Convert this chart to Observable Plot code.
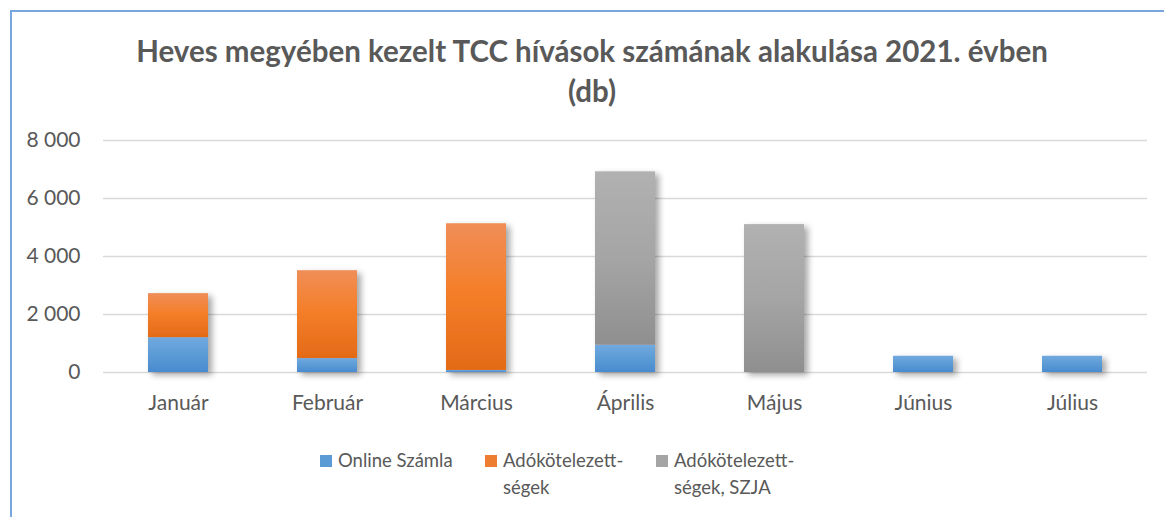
<!DOCTYPE html>
<html><head><meta charset="utf-8">
<script src="https://cdn.jsdelivr.net/npm/d3@7"></script>
<script src="https://cdn.jsdelivr.net/npm/@observablehq/plot@0.6"></script>
<style>
html,body{margin:0;padding:0;background:#fff;overflow:hidden;width:1164px;height:517px;font-family:Lato,"Open Sans",sans-serif;color:#595959;}
#frame{position:absolute;left:10px;top:10px;width:1300px;height:600px;border-left:2px solid #7aa6e0;border-top:2px solid #7aa6e0;}
#title{position:absolute;left:20px;top:31px;width:1144px;text-align:center;font-weight:700;font-size:29.5px;line-height:40px;color:#595959;}
#chart{position:absolute;left:0;top:120px;}
.lg{position:absolute;top:447px;display:flex;align-items:flex-start;font-size:18.5px;line-height:27px;color:#595959;}
.sw{width:12px;height:12px;margin-top:8px;margin-right:6px;flex:none;}
</style></head>
<body>
<div id="frame"></div>
<div id="title"></div>
<div id="chart"></div>
<div id="legend"></div>
<script>
const months = ["Január","Február","Március","Április","Május","Június","Július"];
const series = ["Online Számla","Adókötelezett-ségek","Adókötelezett-ségek, SZJA"];
const onlineSzamla = [1200, 480, 70, 940, 0, 560, 560];
const adokotelezettsegek = [1520, 3030, 5060, 0, 0, 0, 0];
const adokotelezettsegekSzja = [0, 0, 0, 5980, 5100, 0, 0];
const yTicks = [0, 2000, 4000, 6000, 8000];
const swatchColors = ["#5b9bd5", "#ed7d31", "#a5a5a5"];

document.getElementById("title").innerHTML = "Heves megyében kezelt TCC hívások számának alakulása 2021. évben<br>(db)";

const valuesBySeries = [onlineSzamla, adokotelezettsegek, adokotelezettsegekSzja];
const data = series.flatMap((s, i) => months.map((m, j) => ({month: m, series: s, value: valuesBySeries[i][j]})));

const fmt = d => d3.format(",")(d).replace(/,/g, " ");

const plot = Plot.plot({
  width: 1164,
  height: 302,
  marginLeft: 103,
  marginRight: 17,
  marginTop: 20,
  marginBottom: 50,
  style: {fontFamily: "Lato, sans-serif", fontSize: "21px", color: "#595959", background: "transparent"},
  x: {domain: months, paddingInner: 0.6, paddingOuter: 0.3, label: null},
  y: {domain: [0, 8000], label: null},
  color: {domain: series, range: ["url(#gBlue)", "url(#gOrange)", "url(#gGray)"]},
  marks: [
    Plot.gridY(yTicks, {stroke: "#d9d9d9", strokeOpacity: 1, strokeWidth: 1.5}),
    Plot.barY(data, {x: "month", y: "value", fill: "series"}),
    Plot.axisY(yTicks, {tickSize: 0, tickPadding: 23, tickFormat: fmt, fontSize: 21, fill: "#595959", label: null}),
    Plot.axisX({tickSize: 0, tickPadding: 23, fontSize: 21, fill: "#595959", label: null})
  ]
});

const ns = "http://www.w3.org/2000/svg";
const defs = document.createElementNS(ns, "defs");
defs.innerHTML = `
<linearGradient id="gBlue" x1="0" y1="0" x2="0" y2="1"><stop offset="0" stop-color="#71a9e0"/><stop offset="0.5" stop-color="#5b9bd5"/><stop offset="1" stop-color="#4a8bd0"/></linearGradient>
<linearGradient id="gOrange" x1="0" y1="0" x2="0" y2="1"><stop offset="0" stop-color="#f08e58"/><stop offset="0.45" stop-color="#f47f2a"/><stop offset="1" stop-color="#e46a17"/></linearGradient>
<linearGradient id="gGray" x1="0" y1="0" x2="0" y2="1"><stop offset="0" stop-color="#b1b1b1"/><stop offset="0.5" stop-color="#a5a5a5"/><stop offset="1" stop-color="#8f8f8f"/></linearGradient>
<filter id="sh" x="-30%" y="-10%" width="170%" height="130%"><feDropShadow dx="4" dy="3" stdDeviation="3" flood-color="#000" flood-opacity="0.35"/></filter>`;
plot.insertBefore(defs, plot.firstChild);
const barG = plot.querySelector('g[aria-label="bar"]');
if (barG) barG.setAttribute("filter", "url(#sh)");
document.getElementById("chart").appendChild(plot);

const legendLeft = [320, 485, 656];
const legend = document.getElementById("legend");
series.forEach((s, i) => {
  const item = document.createElement("div");
  item.className = "lg";
  item.style.left = legendLeft[i] + "px";
  const sw = document.createElement("div");
  sw.className = "sw";
  sw.style.background = swatchColors[i];
  const t = document.createElement("div");
  t.textContent = s;
  if (i === 0) t.style.whiteSpace = "nowrap"; else t.style.maxWidth = "140px";
  item.appendChild(sw); item.appendChild(t);
  legend.appendChild(item);
});
</script>
</body></html>
